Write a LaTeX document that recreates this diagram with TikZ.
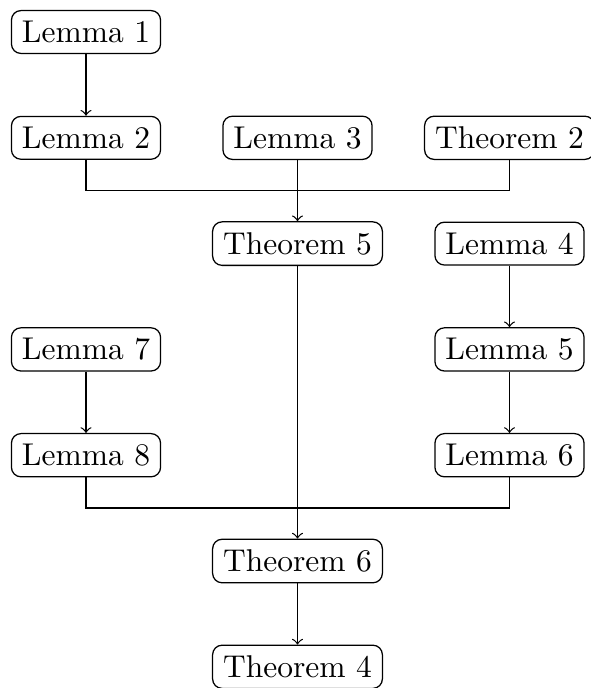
\documentclass[tikz,border=0pt]{standalone}
\begin{document}
\begin{tikzpicture}[x=0.3175pt,y=-0.3175pt,
  box/.style={draw,rounded corners=3pt,inner sep=3.33pt},
  conn/.style={draw},
  arr/.style={->}]
\useasboundingbox (0,0) rectangle (591,688);
\node[box] (L1) at (86,32) {Lemma 1};
\node[box] (L2) at (86,137.8) {Lemma 2};
\node[box] (L3) at (297.5,137.8) {Lemma 3};
\node[box] (T2) at (509.5,137.8) {Theorem 2};
\node[box] (T5) at (297.5,243.6) {Theorem 5};
\node[box] (L4) at (509.5,243.6) {Lemma 4};
\node[box] (L7) at (86,349.4) {Lemma 7};
\node[box] (L5) at (509.5,349.4) {Lemma 5};
\node[box] (L8) at (86,455.2) {Lemma 8};
\node[box] (L6) at (509.5,455.2) {Lemma 6};
\node[box] (T6) at (297.5,561) {Theorem 6};
\node[box] (T4) at (297.5,666.8) {Theorem 4};
\coordinate (j1) at (297.5,190.7);
\coordinate (j2) at (297.5,508.1);
\draw[arr] (L1) -- (L2);
\draw[conn] (L2.south) |- (j1) -| (T2.south);
\draw[arr] (L3) -- (T5);
\draw[arr] (T5) -- (T6);
\draw[arr] (L4) -- (L5);
\draw[arr] (L5) -- (L6);
\draw[arr] (L7) -- (L8);
\draw[conn] (L8.south) |- (j2) -| (L6.south);
\draw[arr] (T6) -- (T4);
\end{tikzpicture}
\end{document}
